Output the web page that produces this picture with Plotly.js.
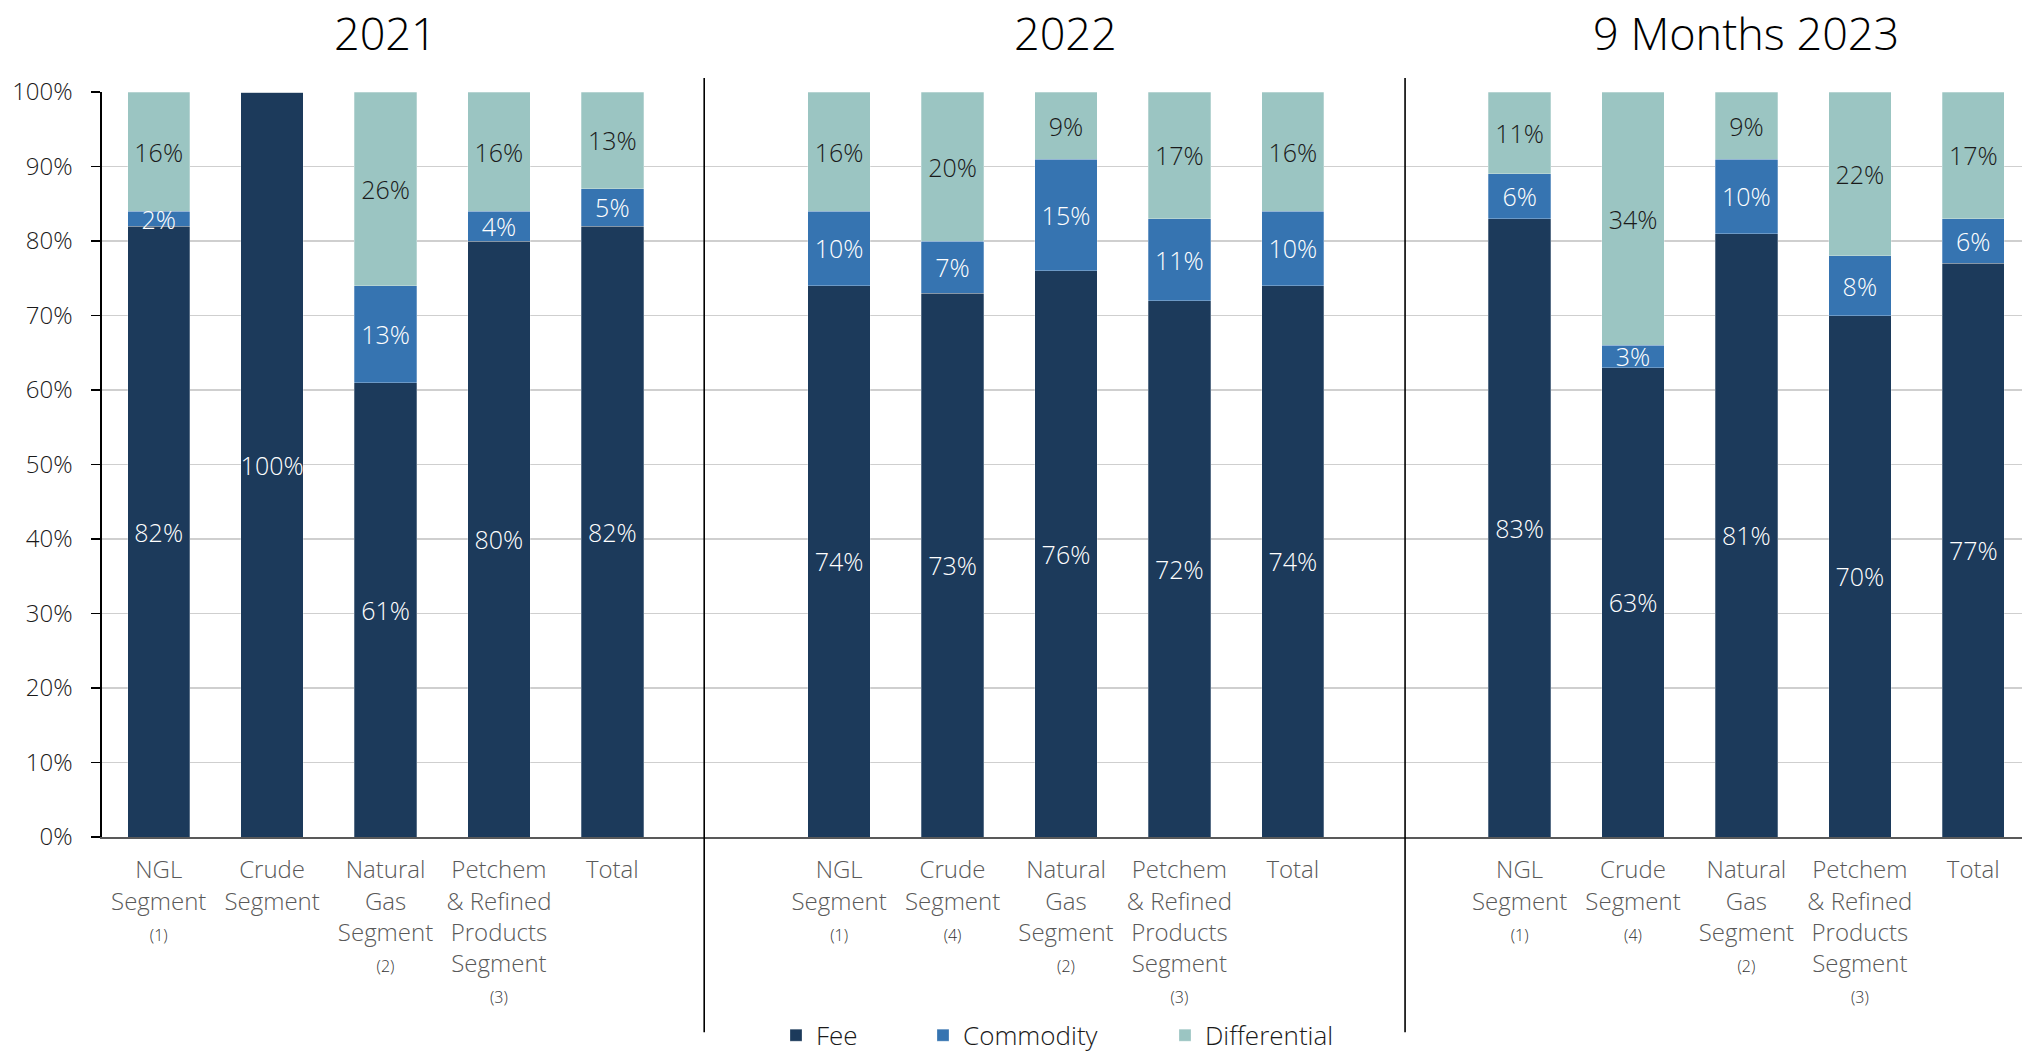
<!DOCTYPE html>
<html>
<head>
<meta charset="utf-8">
<script src="https://cdn.plot.ly/plotly-3.0.1.min.js"></script>
<style>
  html, body { margin: 0; padding: 0; background: #ffffff; overflow: hidden; }
  #chart { width: 2022px; height: 1055px; }
</style>
</head>
<body>
<div id="chart"></div>
<script>
// ---------- data ----------
const panelTitles = ['2021', '2022', '9 Months 2023'];

const FN = (n) => '<span style="font-size:16px;fill:#333333">(' + n + ')</span>';

const categories2021 = [
  'NGL<br>Segment<br>' + FN(1),
  'Crude<br>Segment',
  'Natural<br>Gas<br>Segment<br>' + FN(2),
  'Petchem<br>& Refined<br>Products<br>Segment<br>' + FN(3),
  'Total'
];
const categories2022 = [
  'NGL<br>Segment<br>' + FN(1),
  'Crude<br>Segment<br>' + FN(4),
  'Natural<br>Gas<br>Segment<br>' + FN(2),
  'Petchem<br>& Refined<br>Products<br>Segment<br>' + FN(3),
  'Total'
];
const categories2023 = categories2022.slice();

const fee2021  = [82, 100, 61, 80, 82];
const comm2021 = [2, 0, 13, 4, 5];
const diff2021 = [16, 0, 26, 16, 13];

const fee2022  = [74, 73, 76, 72, 74];
const comm2022 = [10, 7, 15, 11, 10];
const diff2022 = [16, 20, 9, 17, 16];

const fee2023  = [83, 63, 81, 70, 77];
const comm2023 = [6, 3, 10, 8, 6];
const diff2023 = [11, 34, 9, 22, 17];

const seriesNames = ['Fee', 'Commodity', 'Differential'];

// ---------- build ----------
const panels = [
  {cats: categories2021, vals: [fee2021, comm2021, diff2021]},
  {cats: categories2022, vals: [fee2022, comm2022, diff2022]},
  {cats: categories2023, vals: [fee2023, comm2023, diff2023]}
];
const SLOTS_PER_PANEL = 6; // 5 bars + 1 empty slot

const xs = [], tickText = [];
const seriesVals = [[], [], []];
panels.forEach((p, pi) => {
  p.cats.forEach((c, ci) => {
    xs.push(pi * SLOTS_PER_PANEL + ci);
    tickText.push(c);
    for (let s = 0; s < 3; s++) seriesVals[s].push(p.vals[s][ci]);
  });
});

const colors = ['#1c3a5b', '#3674b1', '#9bc5c2'];
const textColors = ['#ffffff', '#ffffff', '#1a1a1a'];
const FONT = '"Open Sans", "Noto Sans", sans-serif';

const traces = seriesNames.map((name, s) => ({
  type: 'bar',
  name: name,
  x: xs,
  y: seriesVals[s],
  text: seriesVals[s].map(v => v > 0 ? v + '%' : ''),
  textposition: 'inside',
  insidetextanchor: 'middle',
  textangle: 0,
  textfont: {family: FONT, size: 25, color: textColors[s], weight: 300},
  marker: {color: colors[s], line: {color: 'rgba(255,255,255,0.45)', width: 0.6}},
  legend: s === 0 ? 'legend' : ('legend' + (s + 1)),
  hoverinfo: 'skip'
}));

const plotL = 102, plotT = 91.7, plotB = 836.7, W = 2022, H = 1055;
const plotH = plotB - plotT;

const legendY = (plotB - 1035) / plotH;
function legendCfg(xpx) {
  return {
    orientation: 'h', x: (xpx - plotL) / (W - plotL), y: legendY,
    xanchor: 'left', yanchor: 'middle',
    font: {family: FONT, size: 26, color: '#1a1a1a', weight: 300},
    bgcolor: 'rgba(0,0,0,0)', itemwidth: 30, borderwidth: 0,
    itemclick: false, itemdoubleclick: false
  };
}

const annotations = panelTitles.map((t, i) => ({
  text: t,
  x: i * SLOTS_PER_PANEL + 2,
  xref: 'x',
  y: (plotB - 32) / plotH,
  yref: 'paper',
  showarrow: false,
  xanchor: 'center', yanchor: 'middle',
  font: {family: FONT, size: 45, color: '#000000', weight: 300}
}));

const dividerY0 = (plotB - 1032) / plotH;
const dividerY1 = (plotB - 77.7) / plotH;
const shapes = [4.81, 10.99].map(xv => ({
  type: 'line', xref: 'x', yref: 'paper',
  x0: xv, x1: xv, y0: dividerY0, y1: dividerY1,
  line: {color: '#000000', width: 1.6}
}));

const layout = {
  width: W, height: H,
  margin: {l: plotL, r: 0, t: plotT, b: H - plotB, pad: 0, autoexpand: false},
  paper_bgcolor: '#ffffff', plot_bgcolor: '#ffffff',
  barmode: 'stack', bargap: 0.45,
  font: {family: FONT},
  xaxis: {
    range: [-0.5, 16.43],
    tickmode: 'array', tickvals: xs, ticktext: tickText,
    ticks: '', showgrid: false, zeroline: false,
    showline: true, linecolor: '#595959', linewidth: 1.6,
    tickfont: {family: FONT, size: 24, color: '#595959', weight: 300},
    ticklabelstandoff: 11,
    automargin: false,
    fixedrange: true
  },
  yaxis: {
    range: [0, 100],
    tickmode: 'linear', tick0: 0, dtick: 10, ticksuffix: '%',
    ticks: 'outside', ticklen: 9, tickcolor: '#000000', tickwidth: 1.3,
    showline: true, linecolor: '#000000', linewidth: 1.6,
    showgrid: true, gridcolor: '#cfcfcf', gridwidth: 1.3,
    zeroline: false,
    tickfont: {family: FONT, size: 24, color: '#1a1a1a', weight: 300},
    ticklabelstandoff: 14,
    automargin: false,
    fixedrange: true
  },
  uniformtext: {mode: 'show', minsize: 25},
  showlegend: true,
  legend: legendCfg(776),
  legend2: legendCfg(923),
  legend3: legendCfg(1165),
  annotations: annotations,
  shapes: shapes
};

Plotly.newPlot('chart', traces, layout, {staticPlot: true, displayModeBar: false});
</script>
</body>
</html>
